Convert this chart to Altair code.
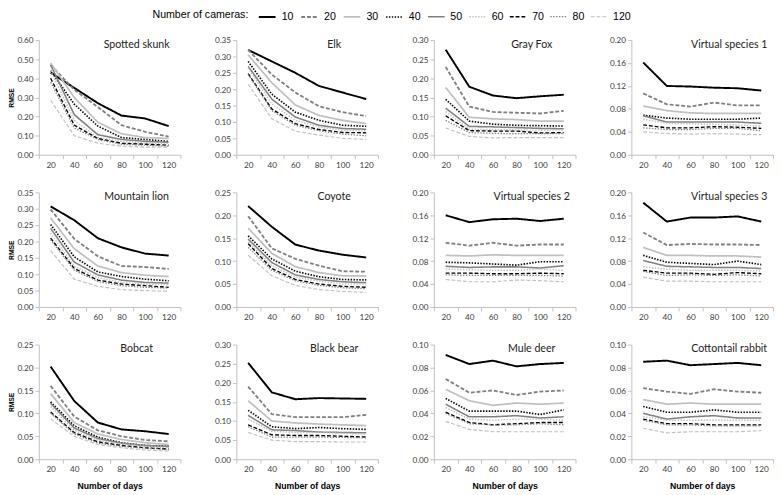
import altair as alt
import pandas as pd

days = [20, 40, 60, 80, 100, 120]
cameras = [10, 20, 30, 40, 50, 60, 70, 80, 120]

species = ["Spotted skunk", "Elk", "Gray Fox", "Virtual species 1",
           "Mountain lion", "Coyote", "Virtual species 2", "Virtual species 3",
           "Bobcat", "Black bear", "Mule deer", "Cottontail rabbit"]
y_max = [0.60, 0.35, 0.30, 0.20, 0.35, 0.25, 0.20, 0.20, 0.25, 0.30, 0.10, 0.10]
y_step = [0.10, 0.05, 0.05, 0.04, 0.05, 0.05, 0.04, 0.04, 0.05, 0.05, 0.02, 0.02]

# RMSE per number of cameras (rows: 10,20,30,40,50,60,70,80,120), columns: days
spotted_skunk = [
    [0.43, 0.35, 0.27, 0.205, 0.19, 0.15],
    [0.47, 0.34, 0.25, 0.155, 0.12, 0.095],
    [0.48, 0.30, 0.17, 0.11, 0.09, 0.085],
    [0.44, 0.265, 0.15, 0.09, 0.08, 0.07],
    [0.47, 0.21, 0.105, 0.08, 0.07, 0.065],
    [0.44, 0.18, 0.09, 0.07, 0.06, 0.06],
    [0.40, 0.155, 0.085, 0.06, 0.055, 0.05],
    [0.38, 0.14, 0.08, 0.055, 0.05, 0.045],
    [0.285, 0.10, 0.06, 0.045, 0.04, 0.04],
]
elk = [
    [0.32, 0.285, 0.25, 0.21, 0.19, 0.17],
    [0.32, 0.245, 0.19, 0.148, 0.13, 0.118],
    [0.305, 0.22, 0.152, 0.12, 0.105, 0.095],
    [0.285, 0.185, 0.13, 0.105, 0.09, 0.087],
    [0.27, 0.17, 0.115, 0.09, 0.08, 0.078],
    [0.265, 0.155, 0.105, 0.085, 0.075, 0.073],
    [0.248, 0.14, 0.095, 0.077, 0.068, 0.067],
    [0.245, 0.135, 0.09, 0.073, 0.063, 0.058],
    [0.215, 0.11, 0.072, 0.06, 0.05, 0.047],
]
gray_fox = [
    [0.275, 0.178, 0.155, 0.148, 0.153, 0.157],
    [0.23, 0.126, 0.112, 0.11, 0.108, 0.115],
    [0.176, 0.098, 0.094, 0.092, 0.088, 0.088],
    [0.145, 0.088, 0.08, 0.077, 0.076, 0.075],
    [0.122, 0.074, 0.073, 0.071, 0.069, 0.068],
    [0.113, 0.067, 0.066, 0.065, 0.064, 0.065],
    [0.102, 0.063, 0.062, 0.062, 0.057, 0.058],
    [0.09, 0.058, 0.056, 0.055, 0.055, 0.055],
    [0.07, 0.048, 0.044, 0.045, 0.045, 0.045],
]
virtual_1 = [
    [0.161, 0.12, 0.119, 0.117, 0.116, 0.112],
    [0.107, 0.088, 0.084, 0.091, 0.086, 0.086],
    [0.085, 0.077, 0.073, 0.072, 0.072, 0.072],
    [0.069, 0.064, 0.062, 0.062, 0.062, 0.064],
    [0.068, 0.057, 0.057, 0.057, 0.057, 0.055],
    [0.062, 0.055, 0.054, 0.053, 0.052, 0.050],
    [0.052, 0.047, 0.047, 0.049, 0.048, 0.046],
    [0.047, 0.044, 0.044, 0.046, 0.046, 0.042],
    [0.040, 0.037, 0.036, 0.037, 0.036, 0.035],
]
mountain_lion = [
    [0.307, 0.265, 0.21, 0.182, 0.163, 0.157],
    [0.298, 0.208, 0.155, 0.125, 0.122, 0.116],
    [0.272, 0.178, 0.125, 0.105, 0.097, 0.093],
    [0.252, 0.153, 0.107, 0.093, 0.085, 0.08],
    [0.24, 0.137, 0.098, 0.082, 0.075, 0.073],
    [0.225, 0.125, 0.09, 0.075, 0.07, 0.068],
    [0.21, 0.118, 0.082, 0.07, 0.065, 0.06],
    [0.205, 0.112, 0.078, 0.065, 0.06, 0.058],
    [0.172, 0.085, 0.063, 0.053, 0.05, 0.048],
]
coyote = [
    [0.22, 0.175, 0.136, 0.123, 0.114, 0.108],
    [0.198, 0.128, 0.105, 0.09, 0.078, 0.077],
    [0.172, 0.117, 0.088, 0.075, 0.068, 0.068],
    [0.155, 0.105, 0.078, 0.066, 0.06, 0.059],
    [0.148, 0.097, 0.07, 0.06, 0.055, 0.053],
    [0.142, 0.09, 0.065, 0.056, 0.05, 0.05],
    [0.138, 0.084, 0.06, 0.05, 0.045, 0.043],
    [0.13, 0.08, 0.057, 0.047, 0.042, 0.04],
    [0.113, 0.068, 0.047, 0.038, 0.034, 0.032],
]
virtual_2 = [
    [0.16, 0.148, 0.153, 0.154, 0.15, 0.154],
    [0.112, 0.107, 0.112, 0.107, 0.109, 0.109],
    [0.09, 0.089, 0.091, 0.09, 0.09, 0.09],
    [0.078, 0.077, 0.075, 0.073, 0.079, 0.079],
    [0.071, 0.069, 0.07, 0.07, 0.068, 0.072],
    [0.066, 0.065, 0.064, 0.064, 0.066, 0.064],
    [0.059, 0.059, 0.058, 0.058, 0.059, 0.058],
    [0.056, 0.055, 0.055, 0.055, 0.055, 0.054],
    [0.048, 0.044, 0.044, 0.047, 0.046, 0.044],
]
virtual_3 = [
    [0.182, 0.149, 0.156, 0.156, 0.158, 0.149],
    [0.13, 0.108, 0.11, 0.109, 0.109, 0.108],
    [0.104, 0.09, 0.09, 0.089, 0.089, 0.087],
    [0.09, 0.078, 0.076, 0.074, 0.08, 0.074],
    [0.081, 0.071, 0.07, 0.069, 0.069, 0.067],
    [0.07, 0.066, 0.064, 0.064, 0.064, 0.063],
    [0.064, 0.059, 0.059, 0.057, 0.06, 0.058],
    [0.062, 0.055, 0.056, 0.055, 0.056, 0.054],
    [0.052, 0.045, 0.045, 0.044, 0.044, 0.044],
]
bobcat = [
    [0.202, 0.127, 0.08, 0.065, 0.061, 0.055],
    [0.16, 0.093, 0.063, 0.05, 0.042, 0.039],
    [0.143, 0.08, 0.055, 0.043, 0.036, 0.032],
    [0.125, 0.073, 0.048, 0.036, 0.03, 0.028],
    [0.122, 0.068, 0.045, 0.035, 0.03, 0.028],
    [0.115, 0.063, 0.042, 0.033, 0.028, 0.025],
    [0.103, 0.058, 0.038, 0.03, 0.025, 0.022],
    [0.10, 0.055, 0.035, 0.028, 0.024, 0.021],
    [0.088, 0.05, 0.032, 0.025, 0.02, 0.018],
]
black_bear = [
    [0.252, 0.175, 0.157, 0.16, 0.159, 0.158],
    [0.19, 0.118, 0.11, 0.11, 0.11, 0.116],
    [0.153, 0.10, 0.095, 0.092, 0.09, 0.088],
    [0.128, 0.085, 0.08, 0.083, 0.08, 0.078],
    [0.115, 0.077, 0.075, 0.071, 0.07, 0.069],
    [0.105, 0.073, 0.07, 0.07, 0.068, 0.065],
    [0.09, 0.064, 0.062, 0.062, 0.06, 0.058],
    [0.085, 0.058, 0.058, 0.058, 0.057, 0.056],
    [0.07, 0.05, 0.046, 0.046, 0.045, 0.045],
]
mule_deer = [
    [0.091, 0.083, 0.086, 0.081, 0.083, 0.084],
    [0.07, 0.058, 0.06, 0.056, 0.059, 0.06],
    [0.061, 0.051, 0.047, 0.049, 0.048, 0.049],
    [0.053, 0.042, 0.042, 0.042, 0.039, 0.043],
    [0.048, 0.037, 0.037, 0.038, 0.036, 0.037],
    [0.045, 0.035, 0.034, 0.035, 0.035, 0.034],
    [0.041, 0.032, 0.03, 0.031, 0.032, 0.032],
    [0.04, 0.031, 0.03, 0.03, 0.031, 0.03],
    [0.033, 0.026, 0.024, 0.024, 0.024, 0.024],
]
cottontail = [
    [0.085, 0.086, 0.082, 0.083, 0.084, 0.082],
    [0.062, 0.059, 0.057, 0.061, 0.059, 0.058],
    [0.052, 0.048, 0.049, 0.048, 0.048, 0.048],
    [0.046, 0.041, 0.041, 0.043, 0.041, 0.041],
    [0.04, 0.035, 0.037, 0.038, 0.036, 0.036],
    [0.037, 0.034, 0.034, 0.034, 0.034, 0.034],
    [0.035, 0.031, 0.031, 0.03, 0.03, 0.03],
    [0.034, 0.03, 0.03, 0.029, 0.029, 0.029],
    [0.027, 0.023, 0.024, 0.024, 0.024, 0.025],
]
all_values = [spotted_skunk, elk, gray_fox, virtual_1,
              mountain_lion, coyote, virtual_2, virtual_3,
              bobcat, black_bear, mule_deer, cottontail]

BLACK, GRAY, LIGHT = "#000000", "#808080", "#c0c0c0"
line_colors = [BLACK, GRAY, LIGHT, BLACK, GRAY, LIGHT, BLACK, GRAY, LIGHT]
line_dashes = [[1, 0], [4, 2], [1, 0], [1.5, 1.5], [1, 0], [1.5, 1.5], [4, 2], [1.5, 1.5], [4, 2]]
line_widths = [2.0, 1.2, 1.5, 1.4, 1.5, 1.4, 1.7, 1.4, 1.2]

W, H = 147, 119

legend = alt.Legend(
    title="Number of cameras:", orient="none", legendX=118, legendY=-34,
    direction="horizontal", titleOrient="left", symbolType="stroke",
    symbolSize=300, labelFont="Liberation Sans", labelFontSize=11,
    titleFont="Liberation Sans", titleFontSize=11, titleFontWeight="normal",
    titleColor="black", labelColor="black", columnPadding=3, titlePadding=9,
    labelOffset=5,
)


def panel(i):
    rows = []
    for ci, cam in enumerate(cameras):
        for di, d in enumerate(days):
            rows.append({"day": d, "cams": cam, "rmse": all_values[i][ci][di]})
    df = pd.DataFrame(rows)
    first_col = i % 4 == 0
    last_row = i >= 8
    n = int(round(y_max[i] / y_step[i]))
    yvals = [round(k * y_step[i], 2) for k in range(n + 1)]
    return alt.Chart(
        df,
        title=alt.TitleParams(species[i], anchor="middle", frame="group", dx=28,
                              offset=-14, fontSize=11, font="Lato",
                              fontWeight="normal", color="#222222"),
    ).mark_line().encode(
        x=alt.X("day:Q", scale=alt.Scale(domain=[10, 130], nice=False),
                axis=alt.Axis(values=list(range(10, 131, 10)),
                              labelExpr="datum.value % 20 == 0 ? datum.label : ''",
                              tickOpacity={"condition": {"test": "datum.value % 20 == 0", "value": 0}, "value": 1},
                              labelOverlap=False, labelFlush=False,
                              title="Number of days" if last_row else None,
                              titlePadding=9)),
        y=alt.Y("rmse:Q", scale=alt.Scale(domain=[0, y_max[i]], nice=False),
                axis=alt.Axis(values=yvals, format=".2f", labelOverlap=False,
                              title="RMSE" if first_col else None,
                              titlePadding=2)),
        color=alt.Color("cams:O", scale=alt.Scale(domain=cameras, range=line_colors), legend=legend),
        strokeDash=alt.StrokeDash("cams:O", scale=alt.Scale(domain=cameras, range=line_dashes), legend=legend),
        strokeWidth=alt.StrokeWidth("cams:O", scale=alt.Scale(domain=cameras, range=line_widths), legend=legend),
    ).properties(width=W, height=H)


rows_ = []
for r in range(3):
    rows_.append(alt.hconcat(*[panel(r * 4 + c) for c in range(4)], spacing=34))

chart = alt.vconcat(*rows_, spacing=20).properties(
    padding={"left": 0, "top": -10, "right": 0, "bottom": 0}
).configure_view(stroke=None).configure_axis(
    grid=False, domainColor="#bfbfbf", tickColor="#bfbfbf", tickSize=4,
    labelFont="Lato", labelFontSize=8.5, labelColor="#404040", labelPadding=2,
    titleFont="Liberation Sans", titleFontWeight="bold", titleColor="black",
).configure_axisY(titleFontSize=7).configure_axisX(titleFontSize=9)

chart.save("out.html", embed_options={"renderer": "svg", "actions": False})
